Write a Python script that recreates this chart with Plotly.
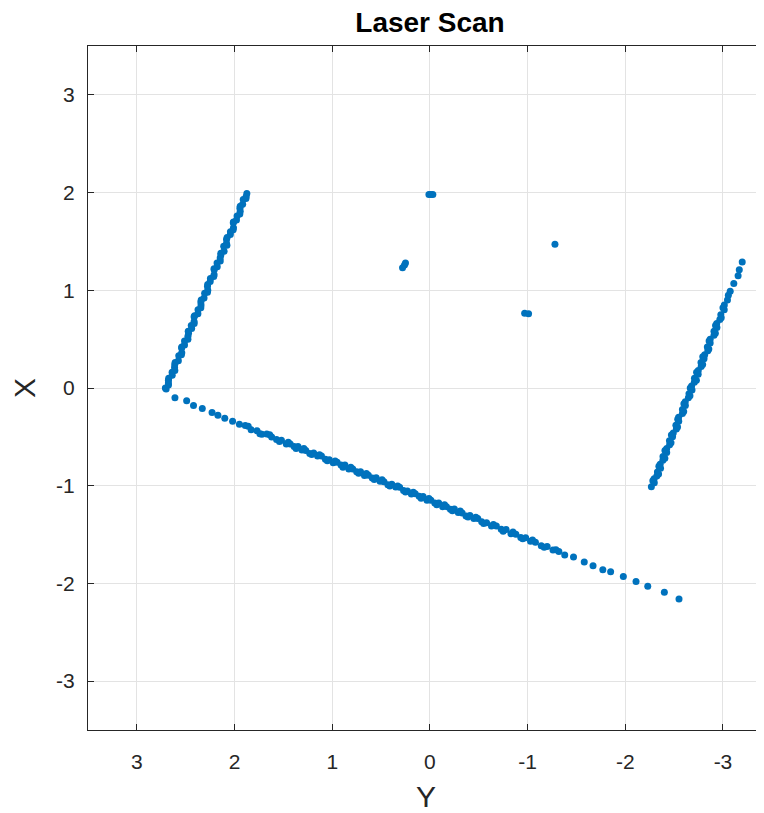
import plotly.graph_objects as go

# ---- data (scan points: horizontal axis = Y, vertical axis = X) ----
left_wall_x = [0.00, 0.05, 0.08, 0.13, 0.16, 0.21, 0.24, 0.28, 0.33, 0.36, 0.41, 0.44, 0.48, 0.53, 0.56,
               0.61, 0.64, 0.68, 0.73, 0.76, 0.80, 0.85, 0.88, 0.92, 0.97, 1.00, 1.04, 1.09, 1.12, 1.16,
               1.21, 1.24, 1.28, 1.33, 1.36, 1.40, 1.45, 1.48, 1.52, 1.57, 1.60, 1.64, 1.69, 1.72, 1.76,
               1.81, 1.84, 1.88, 1.93, 1.96, 1.99,
               0.03, 0.10, 0.18, 0.26, 0.34, 0.42, 0.50, 0.58, 0.66, 0.74, 0.82, 0.90, 0.98, 1.06,
               1.14, 1.22, 1.30, 1.38, 1.46, 1.54, 1.62, 1.70, 1.78, 1.86, 1.94]
left_wall_y = [2.708, 2.677, 2.677, 2.638, 2.639, 2.614, 2.612, 2.575, 2.571, 2.540, 2.542, 2.512, 2.512,
               2.477, 2.471, 2.439, 2.443, 2.414, 2.414, 2.375, 2.374, 2.343, 2.345, 2.312, 2.306, 2.274,
               2.277, 2.249, 2.247, 2.209, 2.208, 2.177, 2.179, 2.147, 2.140, 2.107, 2.111, 2.082, 2.082,
               2.043, 2.042, 2.011, 2.013, 1.980, 1.974, 1.942, 1.945, 1.917, 1.911, 1.881, 1.874,
               2.676, 2.674, 2.611, 2.608, 2.544, 2.540, 2.477, 2.474, 2.413, 2.409, 2.345, 2.341,
               2.277, 2.275, 2.213, 2.210, 2.146, 2.140, 2.078, 2.076, 2.014, 2.011, 1.946, 1.942, 1.883]

bottom_wall_y = [2.70, 2.61, 2.49, 2.42, 2.33, 2.23, 2.17, 2.10, 2.02, 1.95,
                 1.89, 1.83, 1.77, 1.72, 1.67, 1.62, 1.57, 1.52, 1.47, 1.43, 1.39, 1.35, 1.31, 1.27,
                 1.23, 1.19, 1.15, 1.11, 1.07, 1.03, 0.99, 0.95, 0.91, 0.87, 0.83, 0.79, 0.75, 0.71,
                 0.67, 0.63, 0.59, 0.55, 0.51, 0.47, 0.43, 0.39, 0.35, 0.31, 0.27, 0.23, 0.19, 0.15,
                 0.11, 0.07, 0.03, -0.01, -0.05, -0.09, -0.13, -0.17, -0.21, -0.25, -0.29, -0.33,
                 -0.37, -0.41, -0.45, -0.49, -0.53, -0.58, -0.63, -0.68, -0.73, -0.78, -0.83, -0.88,
                 -0.93, -0.98, -1.03, -1.08, -1.14, -1.20, -1.26, -1.32, -1.38,
                 -1.47, -1.58, -1.67, -1.77, -1.85, -1.98, -2.11, -2.23, -2.40, -2.55,
                 1.86, 1.74, 1.64, 1.54, 1.45, 1.37, 1.29, 1.21, 1.13, 1.05, 0.97, 0.89, 0.81, 0.73,
                 0.65, 0.57, 0.49, 0.41, 0.33, 0.25, 0.17, 0.09, 0.01, -0.07, -0.15, -0.23, -0.31,
                 -0.39, -0.47, -0.55, -0.65, -0.75, -0.85, -0.95, -1.05, -1.17, -1.29]
bottom_wall_x = [-0.01, -0.10, -0.13, -0.18, -0.21, -0.25, -0.28, -0.31, -0.34, -0.37,
                 -0.384, -0.426, -0.438, -0.474, -0.470, -0.502, -0.528, -0.534, -0.572, -0.573,
                 -0.598, -0.598, -0.635, -0.639, -0.670, -0.666, -0.695, -0.695, -0.729, -0.734,
                 -0.765, -0.761, -0.789, -0.789, -0.828, -0.828, -0.858, -0.856, -0.896, -0.894,
                 -0.920, -0.918, -0.955, -0.960, -0.990, -0.986, -1.014, -1.015, -1.050, -1.053,
                 -1.085, -1.081, -1.108, -1.110, -1.148, -1.148, -1.178, -1.176, -1.215, -1.214,
                 -1.240, -1.238, -1.275, -1.279, -1.310, -1.306, -1.335, -1.335, -1.369, -1.378,
                 -1.413, -1.413, -1.445, -1.449, -1.492, -1.496, -1.530, -1.532, -1.568, -1.578,
                 -1.615, -1.623, -1.658, -1.672, -1.710,
                 -1.73, -1.78, -1.82, -1.86, -1.88, -1.93, -1.98, -2.03, -2.09, -2.16,
                 -0.392, -0.469, -0.478, -0.548, -0.555, -0.618, -0.620, -0.681, -0.682, -0.744,
                 -0.747, -0.810, -0.812, -0.873, -0.874, -0.936, -0.939, -1.002, -1.004, -1.065,
                 -1.066, -1.128, -1.131, -1.194, -1.196, -1.257, -1.258, -1.320, -1.323, -1.386,
                 -1.396, -1.465, -1.474, -1.544, -1.555, -1.630, -1.656]

right_wall_x = [-1.01, -0.97, -0.93, -0.90, -0.86, -0.82, -0.78, -0.74, -0.70, -0.66, -0.62, -0.58,
                -0.54, -0.50, -0.46, -0.42, -0.38, -0.34, -0.30, -0.26, -0.22, -0.18, -0.14, -0.10,
                -0.06, -0.02, 0.02, 0.06, 0.10, 0.14, 0.18, 0.22, 0.26, 0.30, 0.34, 0.38, 0.42, 0.46,
                0.50, 0.54, 0.58, 0.62, 0.66, 0.70, 0.75, 0.80, 0.85, 0.90, 0.95, 0.99, 1.07, 1.15,
                1.21, 1.29,
                -0.95, -0.88, -0.80, -0.72, -0.64, -0.56, -0.48, -0.40, -0.32, -0.24, -0.16, -0.08,
                0.00, 0.08, 0.16, 0.24, 0.32, 0.40, 0.48, 0.56, 0.64, 0.72, 0.82]
right_wall_y = [-2.267, -2.297, -2.295, -2.323, -2.329, -2.361, -2.357, -2.385, -2.386, -2.424, -2.424,
                -2.454, -2.452, -2.484, -2.491, -2.523, -2.518, -2.547, -2.546, -2.585, -2.585, -2.615,
                -2.614, -2.646, -2.652, -2.683, -2.679, -2.707, -2.708, -2.746, -2.747, -2.777, -2.775,
                -2.806, -2.813, -2.845, -2.840, -2.869, -2.869, -2.908, -2.908, -2.938, -2.936, -2.968,
                -2.978, -3.013, -3.014, -3.046, -3.055, -3.074, -3.111, -3.155, -3.167, -3.197,
                -2.282, -2.341, -2.344, -2.405, -2.406, -2.468, -2.472, -2.535, -2.537, -2.598, -2.600,
                -2.662, -2.665, -2.728, -2.730, -2.792, -2.793, -2.855, -2.858, -2.922, -2.924, -2.982,
                -3.000]

objects_y = [0.01, -0.01, -0.03, 0.28, 0.26, 0.25, -1.28, -0.97, -1.01]
objects_x = [1.98, 1.98, 1.98, 1.23, 1.26, 1.28, 1.47, 0.765, 0.76]

tick_vals = [3, 2, 1, 0, -1, -2, -3]
tick_text = ["3", "2", "1", "0", "-1", "-2", "-3"]

all_y = left_wall_y + bottom_wall_y + right_wall_y + objects_y
all_x = left_wall_x + bottom_wall_x + right_wall_x + objects_x

FONT = "Liberation Sans, Arial, sans-serif"

fig = go.Figure()
fig.add_trace(go.Scatter(
    x=all_y, y=all_x, mode="markers",
    marker=dict(size=7, color="#0072BD", line=dict(width=0)),
    showlegend=False, hoverinfo="skip"))

axis_common = dict(
    showgrid=True, gridcolor="#E3E3E3", gridwidth=1,
    zeroline=False, showline=True, linecolor="#262626", linewidth=1.3,
    ticks="inside", ticklen=6, tickcolor="#262626", tickwidth=1,
    tickfont=dict(family=FONT, size=21, color="#262626"),
    tickvals=tick_vals, ticktext=tick_text,
)

# page body adds an 8px offset, so the figure is 8px smaller than the window
W, H = 756, 805
fig.update_layout(
    width=W, height=H,
    margin=dict(l=80, r=0, t=38, b=83),
    paper_bgcolor="white", plot_bgcolor="white",
    title=dict(text="<b>Laser Scan</b>", xref="container", x=422 / W, xanchor="center",
               yref="container", y=1 - 14 / H, yanchor="middle",
               font=dict(family=FONT, size=28, color="#000000")),
    xaxis=dict(range=[3.5, -3.42], mirror="ticks", ticklabelstandoff=13,
               title=dict(text="Y", font=dict(family=FONT, size=30, color="#262626"), standoff=17),
               **axis_common),
    yaxis=dict(range=[-3.5, 3.5], mirror=False, ticklabelstandoff=8,
               title=dict(text="X", font=dict(family=FONT, size=30, color="#262626"), standoff=11),
               **axis_common),
)

fig.write_html("out.html")
